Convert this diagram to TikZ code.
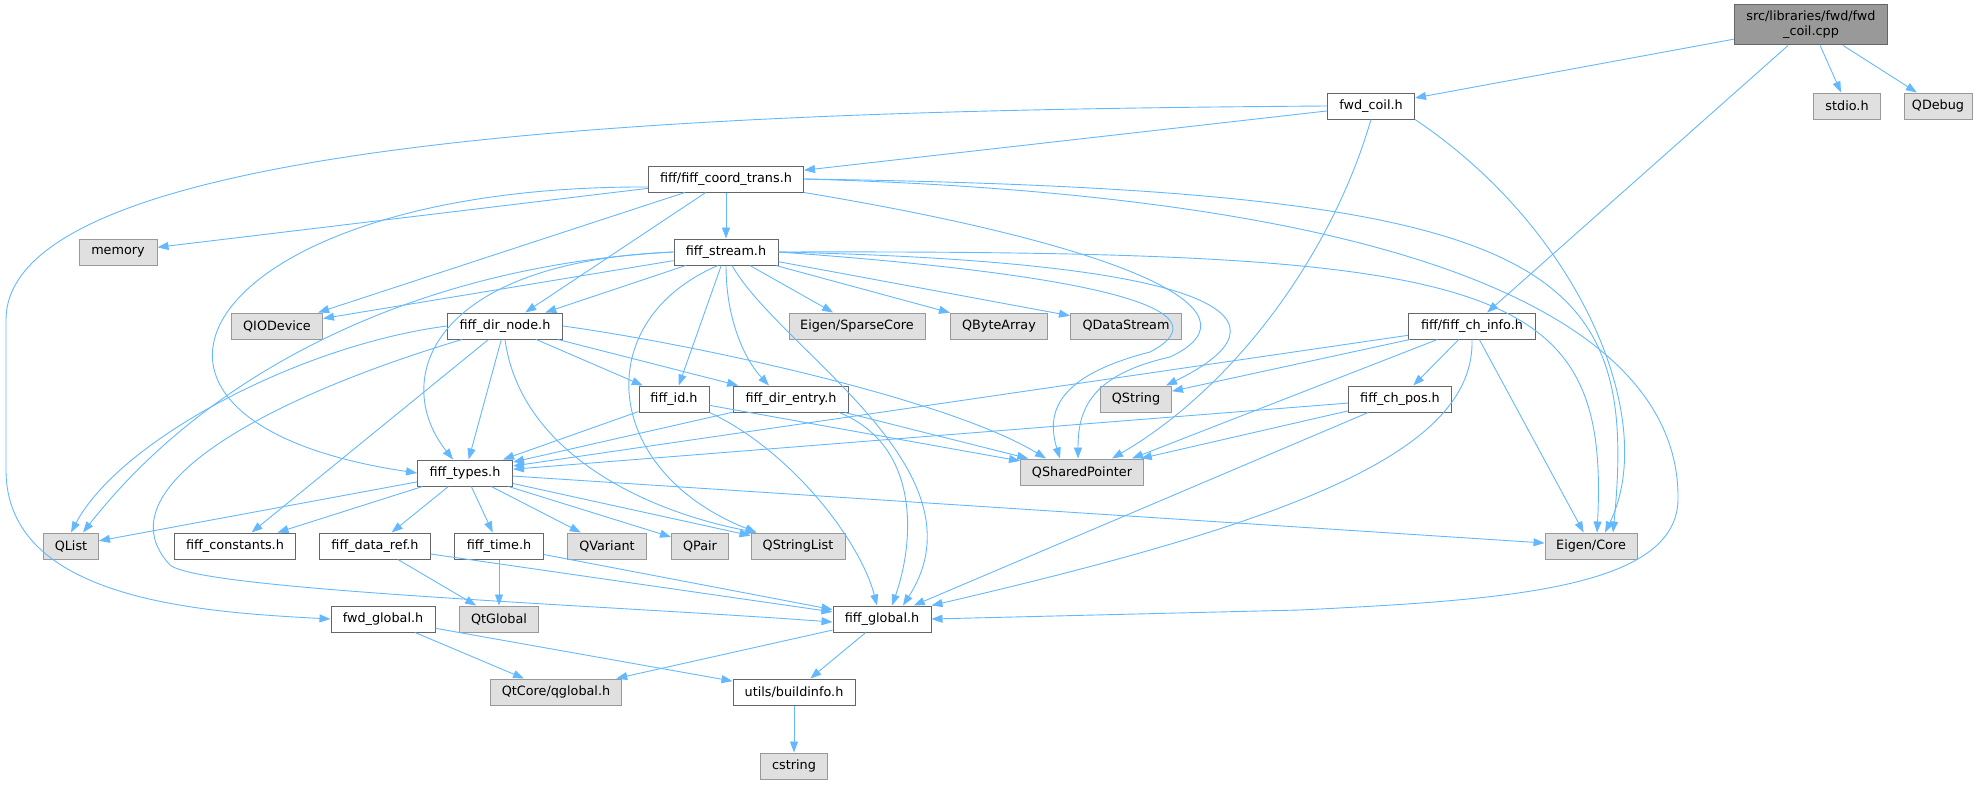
\documentclass[tikz,border=0pt]{standalone}
\usepackage{fontspec}
\setmainfont{DejaVu Sans}
\usetikzlibrary{arrows.meta}
\definecolor{edgeblue}{HTML}{63B8FF}
\definecolor{boxgray}{HTML}{E0E0E0}
\definecolor{rootgray}{HTML}{999999}
\definecolor{linegray}{HTML}{666666}
\tikzset{
	hfile/.style={draw=linegray, fill=white, line width=1pt, minimum height=26pt, inner xsep=2pt, inner ysep=0pt},
	sysfile/.style={hfile, draw=rootgray, fill=boxgray},
	rootfile/.style={hfile, draw=linegray, fill=rootgray, align=center, minimum height=40pt},
	dep/.style={-{Triangle[length=11pt,width=8pt]}, line width=0.9pt, color=edgeblue}
}
\begin{document}
\begin{tikzpicture}[x=1pt, y=-1pt, font=\fontsize{12.8}{15}\selectfont]

		\useasboundingbox (0,0) rectangle (1985,784);

		\node[rootfile, minimum width=153pt](cpp) at (1811,25){src/libraries/fwd/fwd\\\_coil.cpp};

		\node[hfile, minimum width=87pt](fwdcoil) at (1371,106){fwd\_coil.h};
		\node[sysfile, minimum width=67pt](stdio) at (1847,106){stdio.h};
		\node[sysfile, minimum width=68pt](qdebug) at (1938,106){QDebug};

		\node[hfile, minimum width=155pt](coordtrans) at (726,179){fiff/fiff\_coord\_trans.h};

		\node[sysfile, minimum width=78pt](memory) at (118,252){memory};
		\node[hfile, minimum width=104pt](stream) at (726,252){fiff\_stream.h};

		\node[sysfile, minimum width=91pt](qiodevice) at (277,326){QIODevice};
		\node[hfile, minimum width=115pt](dirnode) at (505,326){fiff\_dir\_node.h};
		\node[sysfile, minimum width=136pt](sparsecore) at (857,326){Eigen/SparseCore};
		\node[sysfile, minimum width=97pt](qbytearray) at (999,326){QByteArray};
		\node[sysfile, minimum width=111pt](qdatastream) at (1126,326){QDataStream};
		\node[hfile, minimum width=127pt](chinfo) at (1472,326){fiff/fiff\_ch\_info.h};

		\node[hfile, minimum width=70pt](fiffid) at (674,399){fiff\_id.h};
		\node[hfile, minimum width=115pt](direntry) at (791,399){fiff\_dir\_entry.h};
		\node[sysfile, minimum width=71pt](qstring) at (1136,399){QString};
		\node[hfile, minimum width=103pt](chpos) at (1400,399){fiff\_ch\_pos.h};

		\node[hfile, minimum width=95pt](fifftypes) at (465,473){fiff\_types.h};
		\node[sysfile, minimum width=123pt](qsharedptr) at (1082,472){QSharedPointer};

		\node[sysfile, minimum width=55pt](qlist) at (71,546){QList};
		\node[hfile, minimum width=121pt](constants) at (235,546){fiff\_constants.h};
		\node[hfile, minimum width=111pt](dataref) at (375,546){fiff\_data\_ref.h};
		\node[hfile, minimum width=89pt](fifftime) at (499,546){fiff\_time.h};
		\node[sysfile, minimum width=79pt](qvariant) at (607,546){QVariant};
		\node[sysfile, minimum width=57pt](qpair) at (700,546){QPair};
		\node[sysfile, minimum width=94pt](qstringlist) at (798,546){QStringList};
		\node[sysfile, minimum width=92pt](eigencore) at (1591,546){Eigen/Core};

		\node[hfile, minimum width=104pt](fwdglobal) at (383,619){fwd\_global.h};
		\node[sysfile, minimum width=79pt](qtglobal) at (499,619){QtGlobal};
		\node[hfile, minimum width=98pt](fiffglobal) at (882,619){fiff\_global.h};

		\node[sysfile, minimum width=131pt](qglobal) at (556,692){QtCore/qglobal.h};
		\node[hfile, minimum width=122pt](buildinfo) at (794,692){utils/buildinfo.h};

		\node[sysfile, minimum width=67pt](cstring) at (794,766){cstring};

		\draw [dep] (cpp) -- (fwdcoil);
		\draw [dep] (cpp) -- (stdio);
		\draw [dep] (cpp) -- (qdebug);
		\draw [dep] (cpp) -- (chinfo);

		\draw [dep] (fwdcoil.west) .. controls (750,110) and (6,130) .. (6,320) -- (6,470) .. controls (6,600) and (200,612) .. (fwdglobal.west);
		\draw [dep] (fwdcoil) -- (coordtrans);
		\draw [dep] (fwdcoil.south) .. controls (1330,260) and (1230,390) .. ([xshift=30pt]qsharedptr.north);
		\draw [dep] (fwdcoil.south east) .. controls (1580,230) and (1660,420) .. ([xshift=14pt]eigencore.north);

		\draw [dep] (coordtrans) -- (memory);
		\draw [dep] (coordtrans) -- (qiodevice);
		\draw [dep] (coordtrans) -- (dirnode);
		\draw [dep] ([yshift=-8pt]coordtrans.west) .. controls (200,185) and (60,420) .. (fifftypes.west);
		\draw [dep] (coordtrans) -- (stream);
		\draw [dep] (coordtrans.south east) .. controls (1120,245) and (1270,310) .. (1170,357) .. controls (1090,375) and (1078,410) .. ([xshift=-4pt]qsharedptr.north);
		\draw [dep] (coordtrans.east) .. controls (1550,190) and (1640,260) .. ([xshift=22pt]eigencore.north);
		\draw [dep] (coordtrans.east) .. controls (1560,200) and (1680,380) .. (1678,500) .. controls (1676,590) and (1500,600) .. (1300,610) -- (fiffglobal.east);

		\draw [dep] (stream) -- (qiodevice);
		\draw [dep] (stream) -- (dirnode);
		\draw [dep] (stream.west) .. controls (420,265) and (210,370) .. ([xshift=12pt]qlist.north);
		\draw [dep] (stream.west) .. controls (430,262) and (390,380) .. ([xshift=-12pt]fifftypes.north);
		\draw [dep] (stream) -- (fiffid);
		\draw [dep] (stream.south) .. controls (726,320) and (745,360) .. ([xshift=-22pt]direntry.north);
		\draw [dep] ([xshift=-8pt]stream.south) .. controls (590,320) and (600,470) .. ([xshift=6pt]qstringlist.north west);
		\draw [dep] ([xshift=6pt]stream.south) .. controls (780,350) and (990,470) .. ([xshift=21pt]fiffglobal.north);
		\draw [dep] (stream) -- (sparsecore);
		\draw [dep] (stream) -- (qbytearray);
		\draw [dep] (stream) -- (qdatastream);
		\draw [dep] (stream.east) .. controls (1100,275) and (1230,310) .. (1150,352) .. controls (1060,375) and (1045,410) .. ([xshift=-22pt]qsharedptr.north);
		\draw [dep] (stream.east) .. controls (1230,262) and (1300,320) .. ([xshift=30pt]qstring.north);
		\draw [dep] (stream.east) .. controls (1500,250) and (1610,280) .. ([xshift=6pt]eigencore.north);

		\draw [dep] (dirnode.west) .. controls (300,345) and (120,440) .. (qlist.north);
		\draw [dep] (dirnode) -- (fifftypes);
		\draw [dep] (dirnode) -- (constants);
		\draw [dep] ([xshift=15pt]dirnode.south west) .. controls (260,400) and (100,490) .. (170,565) .. controls (200,590) and (600,605) .. ([yshift=-3pt]fiffglobal.west);
		\draw [dep] (dirnode) -- (fiffid);
		\draw [dep] (dirnode) -- (direntry);
		\draw [dep] (dirnode.east) .. controls (700,345) and (950,400) .. ([xshift=-36pt]qsharedptr.north);
		\draw [dep] (dirnode.south) .. controls (520,450) and (640,510) .. ([xshift=6pt]qstringlist.north west);

		\draw [dep] (fiffid) -- (fifftypes);
		\draw [dep] (fiffid) -- (qsharedptr);
		\draw [dep] (fiffid.south east) .. controls (790,450) and (860,540) .. ([xshift=-5pt]fiffglobal.north);

		\draw [dep] (direntry) -- (fifftypes);
		\draw [dep] (direntry) -- (qsharedptr);
		\draw [dep] ([xshift=-10pt]direntry.south east) .. controls (920,445) and (915,540) .. ([xshift=10pt]fiffglobal.north);

		\draw [dep] (chinfo) -- (chpos);
		\draw [dep] (chinfo) -- (qstring);
		\draw [dep] (chinfo) -- (fifftypes);
		\draw [dep] (chinfo) -- ([xshift=50pt]qsharedptr.north);
		\draw [dep] (chinfo) -- (eigencore);
		\draw [dep] (chinfo.south) .. controls (1475,450) and (1300,520) .. (fiffglobal.north east);

		\draw [dep] (chpos) -- (fifftypes);
		\draw [dep] (chpos) -- (qsharedptr);
		\draw [dep] (chpos) -- (fiffglobal);

		\draw [dep] (fifftypes) -- (qlist);
		\draw [dep] (fifftypes) -- (constants);
		\draw [dep] (fifftypes) -- (dataref);
		\draw [dep] (fifftypes) -- (fifftime);
		\draw [dep] (fifftypes) -- (qvariant);
		\draw [dep] (fifftypes) -- (qpair);
		\draw [dep] (fifftypes) -- (qstringlist);
		\draw [dep] (fifftypes) -- (eigencore);

		\draw [dep] (dataref) -- (qtglobal);
		\draw [dep] (dataref) -- (fiffglobal);
		\draw [dep] (fifftime) -- (qtglobal);
		\draw [dep] (fifftime) -- (fiffglobal);

		\draw [dep] (fwdglobal) -- (qglobal);
		\draw [dep] (fwdglobal) -- (buildinfo);
		\draw [dep] (fiffglobal) -- (qglobal);
		\draw [dep] (fiffglobal) -- (buildinfo);
		\draw [dep] (buildinfo) -- (cstring);

	\end{tikzpicture}
\end{document}
